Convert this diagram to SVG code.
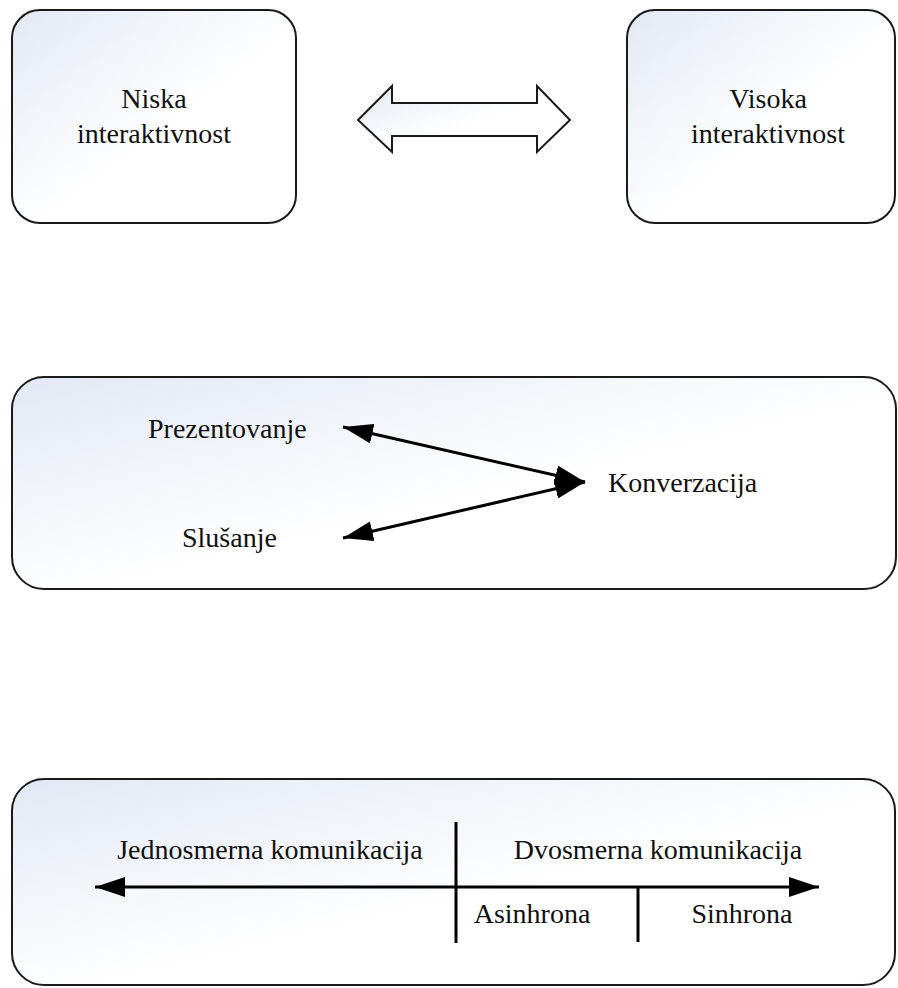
<svg xmlns="http://www.w3.org/2000/svg" width="898" height="988" viewBox="0 0 898 988">
  <defs>
    <linearGradient id="soft" x1="0" y1="0" x2="1" y2="1">
      <stop offset="0" stop-color="#e2e8f4"/>
      <stop offset="0.55" stop-color="#ffffff"/>
      <stop offset="1" stop-color="#ffffff"/>
    </linearGradient>
    <marker id="head" viewBox="0 0 30 20" refX="30" refY="10" markerWidth="30" markerHeight="20" markerUnits="userSpaceOnUse" orient="auto-start-reverse">
      <path d="M0,0 L30,10 L0,20 Z" fill="#000"/>
    </marker>
    <style>
      .box { fill: url(#soft); stroke: #1a1a1a; stroke-width: 2; }
      .lbl { font-family: "Liberation Serif", "Times New Roman", serif; font-size: 28px; fill: #111; }
      .mid { text-anchor: middle; }
      .wire { stroke: #000; stroke-width: 3; fill: none; }
    </style>
  </defs>

  <g id="niska">
    <rect class="box" x="12" y="10" width="284" height="213" rx="28"/>
    <text class="lbl mid" x="154" y="108">Niska</text>
    <text class="lbl mid" x="154" y="143">interaktivnost</text>
  </g>

  <g id="visoka">
    <rect class="box" x="627" y="10" width="268" height="213" rx="28"/>
    <text class="lbl mid" x="768" y="108">Visoka</text>
    <text class="lbl mid" x="768" y="143">interaktivnost</text>
  </g>

  <g id="raspon">
    <path class="box" d="M358,120 L392,86 L392,103 L537,103 L537,86 L570,120 L537,152 L537,136 L392,136 L392,152 Z"/>
  </g>

  <g id="nacini">
    <rect class="box" x="12" y="377" width="884" height="212" rx="32"/>
    <text class="lbl" x="148" y="438">Prezentovanje</text>
    <text class="lbl" x="182" y="547">Slušanje</text>
    <text class="lbl" x="608" y="492">Konverzacija</text>
  </g>

  <g id="smer">
    <rect class="box" x="12" y="779" width="883" height="206" rx="32"/>
    <text class="lbl mid" x="270" y="859">Jednosmerna komunikacija</text>
    <text class="lbl mid" x="658" y="859">Dvosmerna komunikacija</text>
    <text class="lbl mid" x="532" y="923">Asinhrona</text>
    <text class="lbl mid" x="742" y="923">Sinhrona</text>
  </g>

  <g id="veze">
    <line class="wire" x1="343" y1="427" x2="585" y2="482" marker-start="url(#head)" marker-end="url(#head)"/>
    <line class="wire" x1="343" y1="538" x2="585" y2="482" marker-start="url(#head)" marker-end="url(#head)"/>
    <line class="wire" x1="95" y1="887" x2="819" y2="887" marker-start="url(#head)" marker-end="url(#head)"/>
    <line class="wire" x1="456" y1="822" x2="456" y2="943"/>
    <line class="wire" x1="638" y1="887" x2="638" y2="942"/>
  </g>
</svg>
